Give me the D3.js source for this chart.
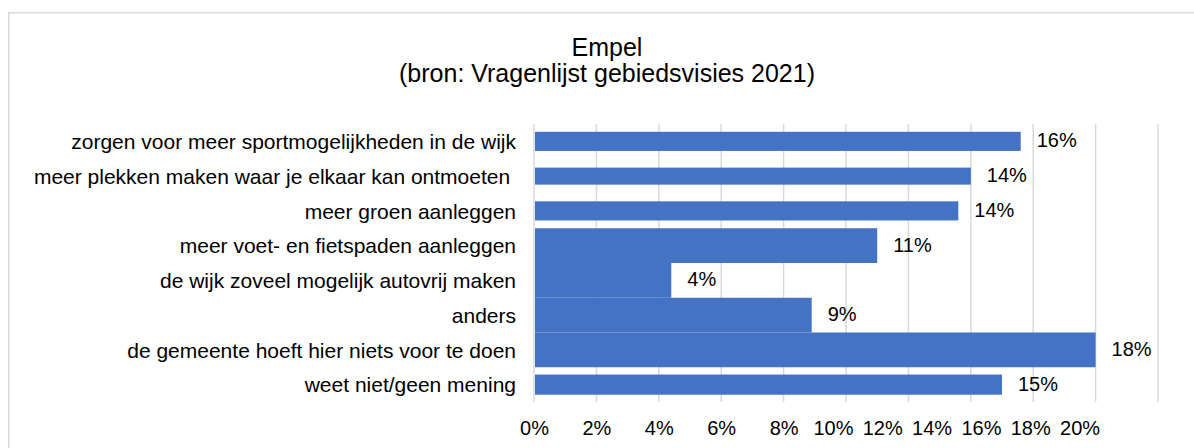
<!DOCTYPE html>
<html>
<head>
<meta charset="utf-8">
<script src="https://cdn.jsdelivr.net/npm/d3@7/dist/d3.min.js"></script>
<style>
  body { margin: 0; background: #fff; }
  text { font-family: "Liberation Sans", Arial, sans-serif; fill: #000; }
</style>
</head>
<body>
<script>
// data
var categories = [
  "zorgen voor meer sportmogelijkheden in de wijk",
  "meer plekken maken waar je elkaar kan ontmoeten ",
  "meer groen aanleggen",
  "meer voet- en fietspaden aanleggen",
  "de wijk zoveel mogelijk autovrij maken",
  "anders",
  "de gemeente hoeft hier niets voor te doen",
  "weet niet/geen mening"
];
var values = [15.6, 14.0, 13.6, 11.0, 4.4, 8.9, 18.0, 15.0];
var tickValues = [0, 2, 4, 6, 8, 10, 12, 14, 16, 18, 20];
var titleLines = ["Empel", "(bron: Vragenlijst gebiedsvisies 2021)"];

var width = 1194,
    height = 448;

var svg = d3.select("body").append("svg")
    .attr("width", width)
    .attr("height", height);

// frame (only top and left edge are visible)
svg.append("path")
    .attr("d", "M8.75," + height + "V12.75H" + width)
    .attr("fill", "none")
    .attr("stroke", "#d9d9d9")
    .attr("stroke-width", 1.5);

// title
svg.append("g").selectAll("text")
    .data(titleLines)
    .enter().append("text")
    .attr("x", 607)
    .attr("y", function(d, i) { return 56 + i * 26; })
    .attr("text-anchor", "middle")
    .style("font-size", "25px")
    .text(function(d) { return d; });

var x = d3.scaleLinear()
    .domain([0, 20])
    .range([534, 1158]);

var y = d3.scaleBand()
    .domain(categories)
    .range([124, 402]);

// tick labels are squeezed together past 8% in the picture
var tickX = d3.scaleLinear()
    .domain([0, 8, 20])
    .range([x(0), x(8), x(8) + 296]);

// gridlines
svg.append("g")
    .selectAll("line")
    .data(tickValues)
    .enter().append("line")
    .attr("x1", function(d) { return x(d); })
    .attr("x2", function(d) { return x(d); })
    .attr("y1", y.range()[0])
    .attr("y2", y.range()[1])
    .attr("stroke", "#d9d9d9")
    .attr("stroke-width", 1.5);

// bars: some rows are drawn thin, others fill the whole band
var barFill = [0.55, 0.49, 0.55, 1, 1, 1, 1, 0.58];

svg.append("g")
    .selectAll("rect")
    .data(values)
    .enter().append("rect")
    .attr("x", x(0) + 1)
    .attr("y", function(d, i) {
        return y(categories[i]) + y.bandwidth() * (1 - barFill[i]) / 2;
    })
    .attr("width", function(d) { return x(d) - x(0) - 1; })
    .attr("height", function(d, i) { return y.bandwidth() * barFill[i]; })
    .attr("fill", "#4472c4");

// value labels
svg.append("g")
    .selectAll("text")
    .data(values)
    .enter().append("text")
    .attr("x", function(d) { return x(d) + 16; })
    .attr("y", function(d, i) { return y(categories[i]) + y.bandwidth() / 2; })
    .attr("dy", "0.3em")
    .style("font-size", "20px")
    .text(function(d) { return Math.round(d) + "%"; });

// category labels
svg.append("g")
    .selectAll("text")
    .data(categories)
    .enter().append("text")
    .attr("x", x(0) - 18)
    .attr("y", function(d) { return y(d) + y.bandwidth() / 2; })
    .attr("dy", "0.37em")
    .attr("text-anchor", "end")
    .style("font-size", "21px")
    .style("white-space", "pre")
    .text(function(d) { return d; });

// x axis labels
var xAxis = d3.axisBottom(tickX)
    .tickValues(tickValues)
    .tickSize(0)
    .tickPadding(0)
    .tickFormat(function(d) { return d + "%"; });

var axisG = svg.append("g")
    .attr("transform", "translate(0,420)")
    .call(xAxis);

axisG.select(".domain").remove();
axisG.selectAll("text")
    .attr("dy", null)
    .attr("y", 15)
    .style("font-size", "20px")
    .style("font-family", "'Liberation Sans', Arial, sans-serif")
    .attr("fill", "#000");
</script>
</body>
</html>
